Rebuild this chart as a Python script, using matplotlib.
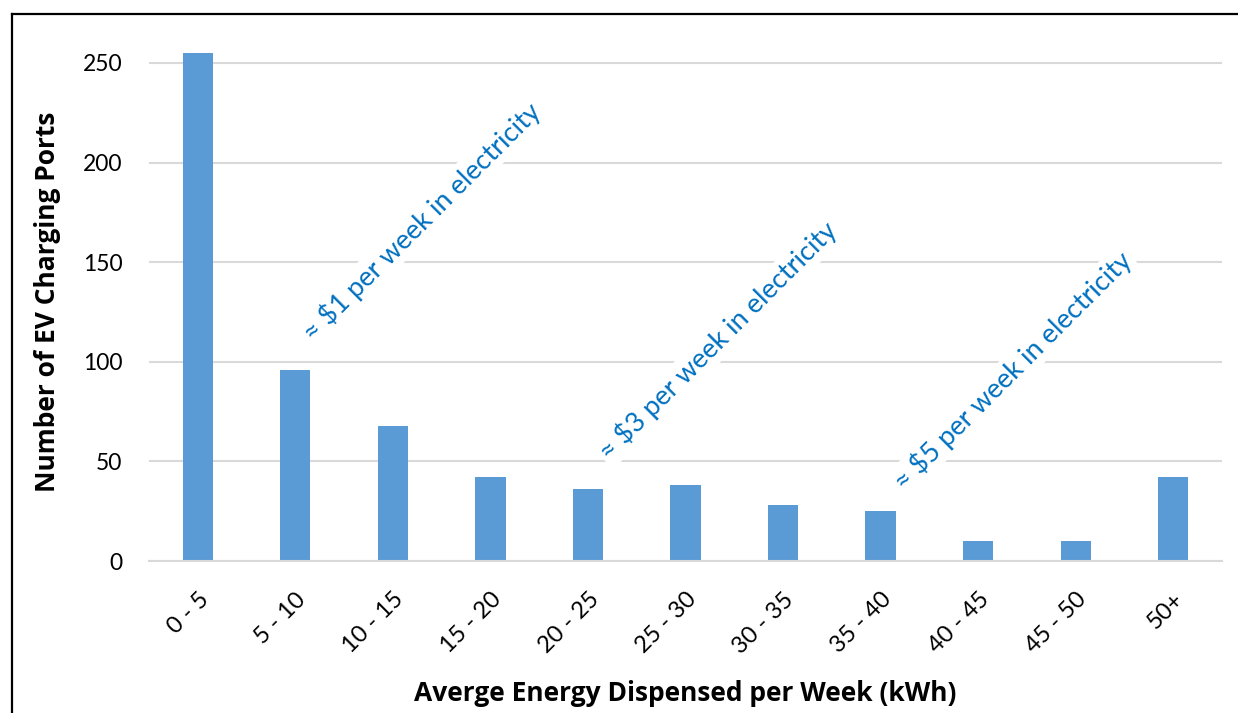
import matplotlib.pyplot as plt
from matplotlib.lines import Line2D

plt.rcParams['font.family'] = ['Lato', 'DejaVu Sans']

# data
bins = ['0 - 5', '5 - 10', '10 - 15', '15 - 20', '20 - 25', '25 - 30',
        '30 - 35', '35 - 40', '40 - 45', '45 - 50', '50+']
ports = [255, 96, 68, 42, 36, 38, 28, 25, 10, 10, 42]

notes = ['≈ $1 per week in electricity',
         '≈ $3 per week in electricity',
         '≈ $5 per week in electricity']
note_x = [1.22, 4.26, 7.28]
note_y = [108, 48, 33]

fig = plt.figure(figsize=(12.38, 7.13), dpi=100)
ax = fig.add_axes([149 / 1238, 1 - 561 / 713, (1222 - 149) / 1238, 0.7265])

x = range(len(bins))
ax.bar(x, ports, width=0.31, color='#5B9BD5', zorder=2)

ax.set_xlim(-0.5, len(bins) - 0.5)
ax.set_ylim(0, 260)
ax.set_yticks([0, 50, 100, 150, 200, 250])
ax.grid(axis='y', color='#D9D9D9', linewidth=1.5, zorder=0)
for s in ['top', 'right', 'left']:
    ax.spines[s].set_visible(False)
ax.spines['bottom'].set_color('#D9D9D9')
ax.spines['bottom'].set_linewidth(1.5)
ax.tick_params(axis='y', length=0, labelsize=16.5, pad=19)
ax.tick_params(axis='x', length=0, labelsize=17, pad=20)
ax.set_xticks(list(x))
ax.set_xticklabels(bins, rotation=45, ha='right', va='top', rotation_mode='anchor')

ax.set_ylabel('Number of EV Charging Ports', fontsize=19, fontweight='bold',
              family=['Open Sans', 'DejaVu Sans'], labelpad=16)
ax.set_xlabel('Averge Energy Dispensed per Week (kWh)', fontsize=19, fontweight='bold',
              family=['Open Sans', 'DejaVu Sans'], labelpad=16)

for t, nx, ny in zip(notes, note_x, note_y):
    ax.text(nx, ny, t, rotation=45, rotation_mode='anchor', ha='left', va='bottom',
            fontsize=19.5, color='#0070C0', zorder=3,
            bbox=dict(facecolor='white', edgecolor='none', pad=2))

# outer frame
fx = 11.5 / 1238
fy = 1 - 14 / 713
fig.add_artist(Line2D([fx, fx], [0, fy], color='black', linewidth=1.6, transform=fig.transFigure))
fig.add_artist(Line2D([fx, 1], [fy, fy], color='black', linewidth=1.6, transform=fig.transFigure))

fig.savefig('out.png', dpi=100)
